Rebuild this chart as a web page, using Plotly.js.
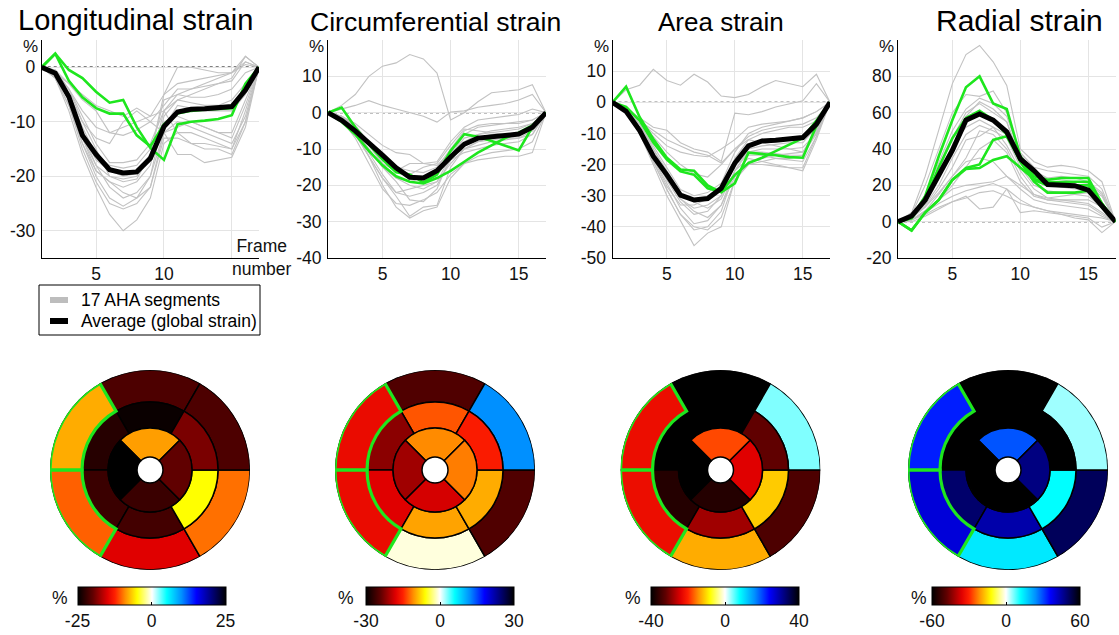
<!DOCTYPE html>
<html><head><meta charset="utf-8">
<script src="https://cdn.plot.ly/plotly-3.0.1.min.js"></script>
<style>html,body{margin:0;padding:0;background:#fff}#chart{width:1119px;height:635px}</style>
</head><body><div id="chart"></div>
<script>
// ---------- DATA ----------
const frames = [1,2,3,4,5,6,7,8,9,10,11,12,13,14,15,16,17];
const titles = ["Longitudinal strain","Circumferential strain","Area strain","Radial strain"];

// Longitudinal strain (%)
const longGray = [
 [0,-2,-8,-16,-22,-27,-30,-28,-24,-14,-12,-12,-13,-14,-15,-8,0],
 [0,-2,-7,-14,-20,-24,-25.5,-24,-20,-12,-10,-11,-12,-13,-14,-9,0],
 [0,-1,-5,-12,-18,-22,-24,-23,-20,-9,-6,-5,-4,-3,-2,2,0],
 [0,-1.5,-6,-13,-19,-21,-22,-21,-18,-8,-5,-4,-3,-2,-1,1,0],
 [0,-1,-6,-13,-18,-20,-21,-20.5,-16,-5,0,0,-0.5,-1,-1,0.5,0],
 [0,-1,-5,-11,-16,-18,-18.5,-18,-15,-10,-9,-10,-11,-12,-13,-7,0],
 [0,-0.5,-4,-9,-14,-17.5,-17.5,-17,-14,-8,-6,-6.5,-7,-7,-6,-3,0],
 [0,-1,-4,-8,-11,-12,-11,-10,-9,-8,-12,-14,-15,-15,-16,-10,0],
 [0,-1,-3,-6,-8,-12,-12.5,-11.5,-10,-12,-16,-16,-17.5,-17,-16.5,-11,0],
 [0,-0.5,-3,-5,-7,-8,-9,-7.5,-9,-5,-3,-2.5,-2,-1.5,-1,2,0],
 [0,-1,-5,-10,-13,-14,-10,-8,-10,-7,-4,-4,-3.5,-3,-2.5,1,0],
 [0,-1.5,-6,-14,-19,-21,-23,-24,-22,-12,-11,-10,-11,-12,-12,-6,0],
 [0,-1,-4,-10,-15,-20,-20.5,-20,-16,-11,-7,-7.5,-8,-8,-8,-5,0],
 [0,-1,-5,-12,-17,-19,-20,-19.5,-16,-6,-5,-5.5,-5.5,-5,-4,-1,0],
 [0,-2,-7,-15,-21,-25,-26,-25,-22,-13,-13,-14,-14,-14.5,-15,-10,0]
];
const longHi = [
 [0,2.5,-2.5,-5.5,-7.5,-8.5,-8.5,-12.5,-14.5,-10.5,-8.5,-8,-7.8,-7.7,-7.5,-4,0],
 [0,2.5,-0.5,-2,-4.5,-6.5,-6,-11,-14.8,-17,-10.5,-10,-9.8,-9.5,-8.8,-3,0]
];
const longAvg = [0,-1.1,-5.4,-12.5,-16,-18.8,-19.4,-19.2,-16.7,-10.9,-8.2,-7.7,-7.6,-7.5,-7.2,-4.2,0];

// Circumferential strain (%)
const circGray = [
 [0,2,5,10,12.8,13.7,16,14.8,10.9,-2,0,3,5.5,6,6.3,7.7,0],
 [0,1,2,3.3,2,1,0,-1,-2.6,0.2,0.5,1.5,2,2.5,3.5,5,0],
 [0,-1,-3,-6,-9,-11,-11.5,-14,-13.5,-8,-4,-2,-1.5,-1,-0.5,1,0],
 [0,-1.5,-5,-12,-20,-26,-29,-27,-26,-18,-14,-12,-11,-10.5,-10,-8,0],
 [0,-2,-7,-14,-21,-25,-25.5,-24,-22,-17,-14,-13,-12.5,-12,-12,-11,0],
 [0,-1.5,-5,-11,-17,-22,-23,-22,-20,-13,-8,-6,-5,-4.5,-4,-3,0],
 [0,-2,-6,-10,-15,-18,-20,-21,-19,-12,-6,-4,-3.5,-3,-2.5,-2,0],
 [0,-1,-4,-8,-12,-15,-16,-16.5,-15,-10,-5,-3.5,-3,-3,-3,-2,0],
 [0,-1,-3.5,-8,-13,-16,-17,-15,-14,-9,-4.5,-5,-5.5,-6,-6,-4,0],
 [0,-2,-6,-12,-18,-22,-21,-20,-19,-14,-10,-8,-7.5,-7,-7,-6,0],
 [0,-1,-4,-9,-14,-18,-19,-18,-17,-12,-10,-9,-8,-7.5,-7,-5,0],
 [0,-2,-6,-12,-18,-23,-28.5,-26,-25.5,-15,-10,-8,-7,-6.5,-6,-5,0],
 [0,-1.5,-5,-10,-15,-19,-24,-24.5,-21,-12,-7,-6,-5.5,-5,-4.5,-3,0],
 [0,-1,-4,-9,-14,-16,-14,-14,-14.5,-11,-8,-7,-6,-6,-5.5,-4,0],
 [0,-1,-4,-8,-12,-15,-17,-18.5,-17,-13,-11,-10,-9,-8.5,-8,-6,0]
];
const circHi = [
 [0,1.4,-4,-8.7,-12.9,-16.4,-17,-19.2,-17,-10.5,-5.9,-6.6,-7.8,-9.2,-10.4,-4,0],
 [0,-2.5,-6,-10.5,-14.5,-17.5,-19,-19.5,-18,-16,-13.5,-11,-9,-7,-5.5,-3.5,0]
];
const circAvg = [0,-2.1,-5,-8.2,-11.7,-15.2,-17.8,-18,-16,-12.2,-8.7,-7,-6.6,-6.4,-5.9,-4,0];

// Area strain (%)
const areaGray = [
 [0,4,5.5,10.6,7,5.5,9,6.5,2,1.5,2.5,5,7,6,5,9,0],
 [0,-2,-5,-8,-9,-13,-15,-16,-19,-3.5,-4,-3,-1.5,-0.5,0.5,6,0],
 [0,-2,-6,-10,-14,-16,-17,-17.5,-15,-12,-8,-7,-6.5,-6,-5,-3,0],
 [0,-3,-10,-20,-30,-38,-46,-42,-40,-25,-20,-19,-18,-18,-17,-10,0],
 [0,-3,-10,-19,-28,-36,-41,-40,-35,-22,-18,-19,-20,-21,-22,-12,0],
 [0,-3,-9,-18,-26,-34,-39,-38,-33,-24,-20,-20,-20.5,-21,-21,-11,0],
 [0,-2,-8,-16,-24,-31,-34,-33,-30,-18,-12,-10,-9,-8,-8,-6,0],
 [0,-2,-7,-14,-21,-28,-30,-29,-26,-16,-10,-8,-7,-6,-5,-3,0],
 [0,-3,-9,-18,-27,-33,-33,-31,-28,-20,-16,-15,-15,-15,-14.5,-10,0],
 [0,-2,-7,-15,-22,-29,-32,-34,-31,-22,-16,-16,-16.5,-17,-17,-9,0],
 [0,-2,-6,-11,-16,-20,-23,-24,-20,-15,-12,-13,-14,-15,-16,-9,0],
 [0,-2,-8,-17,-25,-32,-36,-35,-30,-20,-17,-17,-18,-18.5,-19,-11,0],
 [0,-2,-6,-9,-12,-14,-16,-17,-19.5,-15,-11,-9,-8,-7.5,-7,-5,0],
 [0,-3,-9,-19,-28,-36,-40,-41,-37,-25,-19,-18,-17,-16.5,-16,-10,0],
 [0,-2,-7,-15,-23,-31,-35,-37,-33,-22,-15,-14,-13.5,-13,-13,-8,0]
];
const areaHi = [
 [0,5,-4.8,-11.8,-17.8,-21.6,-22,-26.7,-28.9,-26,-16.2,-16.5,-17,-17.6,-17.8,-7.5,0],
 [0,-1.5,-5.9,-12.9,-18.4,-22.2,-23.3,-27.6,-28.7,-23.3,-19.5,-17.8,-15.7,-13.5,-11.5,-5.9,0]
];
const areaAvg = [0,-2.9,-9.1,-17.3,-23.3,-29.8,-31.4,-30.9,-27.6,-19.5,-14,-12.4,-12.2,-11.8,-11.3,-7,0];

// Radial strain (%)
const radGray = [
 [0,5,25,50,76,92,97,88,75,40,33,30,31,30,28,22,0],
 [0,4,20,40,60,70,69,72,60,38,30,28,27,26,25,18,0],
 [0,3,15,33,50,62,68,65,58,37,28,24,23,22,21,15,0],
 [0,3,14,30,45,58,66,62,55,35,25,22,21,20,19,14,0],
 [0,2,10,25,42,52,56,52,48,32,24,20,19,18,17,10,0],
 [0,2,9,20,35,48,53,50,46,30,20,17,16,15,14,8,0],
 [0,2,8,18,30,45,47,52,42,28,18,13,12,11,10,5,0],
 [0,1,6,15,25,35,50,48,40,25,15,12,11,10,9,4,0],
 [0,2,8,16,25,33,35,33,25,18,12,10,9,8,7,3,0],
 [0,1,6,12,18,20,21,22,25,20,15,13,14,15,16,10,0],
 [0,1,5,10,14,17,19,21,18,12,8,6,5,4,3,2,0],
 [0,1,4,8,11,14,7,8,18,5,6,5,4,3,2,-3,0],
 [0,0,3,7,11,13,16,17,14,10,8,6,4,2,1,-6,0],
 [0,1,5,12,20,30,40,45,38,22,14,12,12,12,12,8,0],
 [0,2,12,28,46,60,65,60,55,33,25,24,25,24,22,16,0]
];
const radHi = [
 [0,2,14,36,56,74,80,65,62,36,25,23,24,24,24,10,0],
 [0,2,12,30,46,57,61,56,48,33,22,16,16,16,17,8,0],
 [0,-4.8,5,12,23,29.6,31.5,45,47,34,23,20,20,20,20,9,0],
 [0,-4.8,5,12,23,29,29.5,34,36,30,23.5,21.7,22,22,22,10,0]
];
const radAvg = [0,3.1,11.9,26.3,39.3,55.9,59.3,55.9,49.4,34.6,28.1,20.4,20.4,19.8,17.4,8.7,0];

// tick labels
const yTicks = [
 [-30,-20,-10,0],
 [-40,-30,-20,-10,0,10],
 [-50,-40,-30,-20,-10,0,10],
 [-20,0,20,40,60,80]
];
const yRanges = [[-35,5],[-40,20],[-50,20],[-20,100]];
const xTicks = [5,10,15];

// Bull's-eye segment values (AHA segments 1..16), %
const longBull = [-21,-8,-10.5,-15,-10,-21, -24.5,-23,-22,-21.5,-5,-19, -8.5,-25,-22,-20];
const circBull = [-25,-17,-17,-0.8,-25,12, -13,-22,-18,-10,-9.6,-15.5, -11,-21,-18.5,-11.5];
const areaBull = [-40,-22.4,-22.4,-12.8,-33.6,4, -40,-40,-37,-28,-11,-32, -18,-40,-37,-24];
const radBull  = [60,33.6,39.6,14.4,51.6,4.5, 60,60,50,44,12,60, 29,60,60,48];
const bullLimits = [25,30,40,60];
const highlighted = [2,3]; // segments outlined in green
const legendNames = ["17 AHA segments","Average (global strain)"];

// ---------- STYLE / LAYOUT ----------
const W = 1119, H = 635;
const FONT = "Liberation Sans, Arial, Helvetica, sans-serif";
const GRAY = "#c2c2c2", GREEN = "#1ee61e";
const px = v => v / W, py = v => 1 - v / H;
const TXT = 17.5;

const xDomPx = [[41.7,259],[328,546],[612.5,830],[898,1115.5]];
const titleX = [135,435,721,1019];
const titleY = [20,22,22,21];
const titleSize = [29,26.6,26,30];
const pctX = [30,316,601,886];
const bullCX = [150,435,720.5,1008];
const cbCX = [151.5,440,725,1006];
const cbPctX = [60,346,633,919];

const cs = [[0,'#000000'],[0.1,'#600000'],[0.2,'#e00000'],[0.25,'#ff2000'],[0.32,'#ff9000'],
            [0.4,'#ffff00'],[0.5,'#ffffff'],[0.6,'#00ffff'],[0.7,'#0090ff'],[0.8,'#0000ff'],
            [0.9,'#000080'],[1,'#000000']];

const grays = [longGray, circGray, areaGray, radGray];
const his = [longHi, circHi, areaHi, radHi];
const avgs = [longAvg, circAvg, areaAvg, radAvg];
const bulls = [longBull, circBull, areaBull, radBull];

const traces = [];
const layout = {
  width: W, height: H, margin: {l:0,r:0,t:0,b:0},
  paper_bgcolor: '#fff', plot_bgcolor: '#fff',
  font: {family: FONT, color: '#000', size: 16},
  showlegend: false,
  annotations: [], shapes: []
};

for (let i = 0; i < 4; i++) {
  const sfx = i === 0 ? '' : String(i + 1);
  const xa = 'x' + sfx, ya = 'y' + sfx;
  grays[i].forEach(s => traces.push({x: frames, y: s, xaxis: xa, yaxis: ya, mode: 'lines',
    name: legendNames[0], line: {color: GRAY, width: 1.1}, hoverinfo: 'skip'}));
  his[i].forEach(s => traces.push({x: frames, y: s, xaxis: xa, yaxis: ya, mode: 'lines',
    line: {color: GREEN, width: 2.6}, hoverinfo: 'skip'}));
  traces.push({x: frames, y: avgs[i], xaxis: xa, yaxis: ya, mode: 'lines', name: legendNames[1],
    line: {color: '#000', width: 5}});

  const xt = xTicks.map(v => (i === 0 && v === 15) ? '' : String(v));
  layout['xaxis' + sfx] = {domain: [px(xDomPx[i][0]), px(xDomPx[i][1])], anchor: ya,
    range: [1, 17], tickvals: xTicks, ticktext: xt, showgrid: true, gridcolor: '#e4e4e4',
    showline: true, linecolor: '#000', linewidth: 1, ticks: '', zeroline: false,
    tickfont: {size: TXT, color: '#111'}, fixedrange: true};
  layout['yaxis' + sfx] = {domain: [py(258), py(40)], anchor: xa, range: yRanges[i],
    tickvals: yTicks[i], ticktext: yTicks[i].map(v => String(v)), showgrid: true, gridcolor: '#e4e4e4',
    showline: true, linecolor: '#000', linewidth: 1, ticks: '', zeroline: false,
    tickfont: {size: TXT, color: '#111'}, ticklabelstandoff: 2, fixedrange: true};
  layout.shapes.push({type: 'line', xref: xa, yref: ya, x0: 1, x1: 17, y0: 0, y1: 0,
    line: {color: '#000', width: 1.3, dash: 'dot'}, layer: 'below'});

  layout.annotations.push({text: titles[i], x: px(titleX[i]), y: py(titleY[i]), xref: 'paper', yref: 'paper',
    showarrow: false, xanchor: 'center', yanchor: 'middle', font: {size: titleSize[i], color: '#000'}});
  layout.annotations.push({text: '%', x: px(pctX[i]), y: py(47), xref: 'paper', yref: 'paper',
    showarrow: false, xanchor: 'center', yanchor: 'middle', font: {size: 17, color: '#111'}});

  // bull's-eye
  const pol = 'polar' + sfx, cax = 'coloraxis' + sfx;
  const c = bullCX[i];
  layout[pol] = {domain: {x: [px(c - 100), px(c + 100)], y: [py(570), py(370)]},
    bgcolor: 'rgba(0,0,0,0)', radialaxis: {visible: false, range: [0, 100]},
    angularaxis: {visible: false}};
  const lim = bullLimits[i];
  layout[cax] = {cmin: -lim, cmax: lim, colorscale: cs,
    colorbar: {orientation: 'h', x: px(cbCX[i]), xanchor: 'center', y: py(587), yanchor: 'top',
      len: 148, lenmode: 'pixels', thickness: 18, thicknessmode: 'pixels',
      outlinecolor: '#000', outlinewidth: 1, xpad: 0, ypad: 0,
      tickvals: [-lim, 0, lim], ticktext: [String(-lim), '0', String(lim)],
      ticks: 'inside', ticklen: 3, tickcolor: '#000', tickfont: {size: TXT, color: '#111'}}};
  layout.annotations.push({text: '%', x: px(cbPctX[i]), y: py(598), xref: 'paper', yref: 'paper',
    showarrow: false, xanchor: 'center', yanchor: 'middle', font: {size: TXT, color: '#111'}});

  const vals = bulls[i];
  const rings = [
    {seg: [0,1,2,3,4,5], theta: [90,150,210,270,330,30], base: 68, thick: 32, w: 60},
    {seg: [6,7,8,9,10,11], theta: [90,150,210,270,330,30], base: 42, thick: 26, w: 60},
    {seg: [12,13,14,15], theta: [90,180,270,0], base: 13, thick: 29, w: 90}
  ];
  rings.forEach(rg => {
    traces.push({type: 'barpolar', subplot: pol, theta: rg.theta, r: rg.seg.map(() => rg.thick),
      base: rg.seg.map(() => rg.base), width: rg.seg.map(() => rg.w),
      marker: {color: rg.seg.map(k => vals[k]), coloraxis: cax, line: {color: '#000', width: 1.5}},
      hoverinfo: 'skip'});
  });
  // green outline on highlighted segments
  const hiTheta = highlighted.map(s => rings[0].theta[s - 1]);
  traces.push({type: 'barpolar', subplot: pol, theta: hiTheta, r: hiTheta.map(() => 32),
    base: hiTheta.map(() => 68), width: hiTheta.map(() => 60),
    marker: {color: 'rgba(0,0,0,0)', line: {color: GREEN, width: 3.2}},
    hoverinfo: 'skip'});
}

// legend box (drawn by hand to match the reference's compact layout)
layout.shapes.push({type: 'rect', xref: 'paper', yref: 'paper', x0: px(39), x1: px(260), y0: py(285), y1: py(335),
  line: {color: '#000', width: 1}, fillcolor: '#fff'});
layout.shapes.push({type: 'line', xref: 'paper', yref: 'paper', x0: px(50), x1: px(68), y0: py(300), y1: py(300),
  line: {color: '#bdbdbd', width: 6}});
layout.shapes.push({type: 'line', xref: 'paper', yref: 'paper', x0: px(50), x1: px(68), y0: py(321), y1: py(321),
  line: {color: '#000', width: 6}});
legendNames.forEach((n, k) => layout.annotations.push({text: n, x: px(79), y: py(300 + 21 * k),
  xref: 'paper', yref: 'paper', showarrow: false, xanchor: 'left', yanchor: 'middle',
  font: {size: TXT, color: '#000'}}));

layout.annotations.push({text: 'Frame<br>number', x: px(262), y: py(257), xref: 'paper', yref: 'paper',
  showarrow: false, xanchor: 'center', yanchor: 'middle', font: {size: TXT, color: '#111'}});

Plotly.newPlot('chart', traces, layout, {displayModeBar: false, staticPlot: true});
</script></body></html>
